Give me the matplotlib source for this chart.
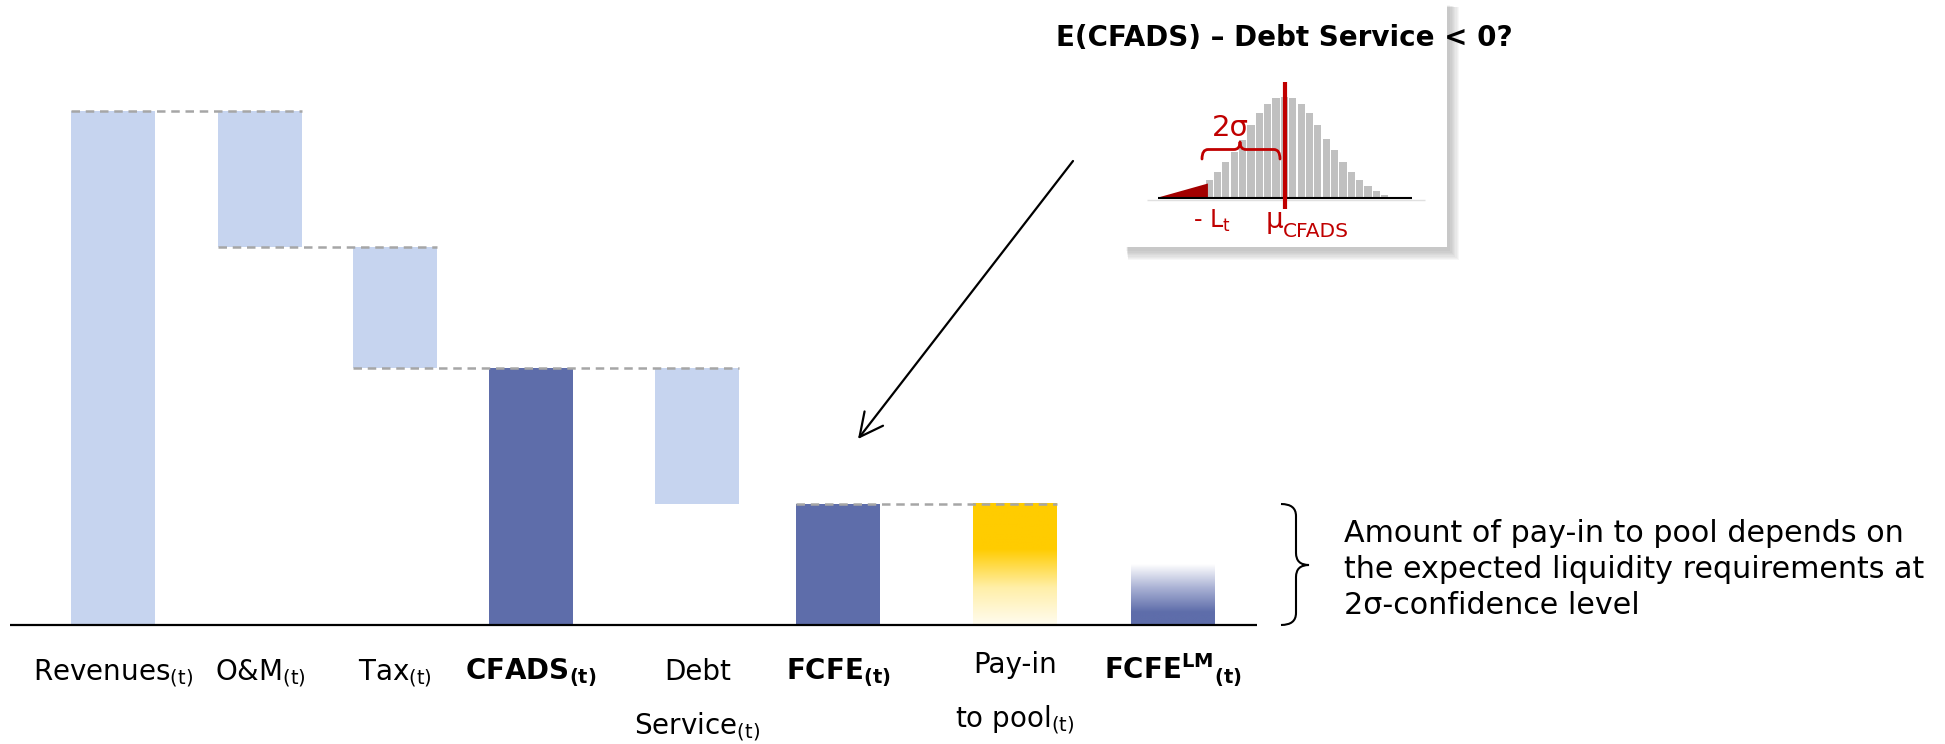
import numpy as np
import matplotlib
matplotlib.use("Agg")
import matplotlib.pyplot as plt
from matplotlib.colors import LinearSegmentedColormap
from matplotlib.patches import Rectangle, PathPatch
from matplotlib.path import Path

plt.rcParams['font.family'] = ['DejaVu Sans']
plt.rcParams['mathtext.default'] = 'regular'

# ---------------- data ----------------
categories = ["Revenues$_{(t)}$", "O&M$_{(t)}$", "Tax$_{(t)}$", "CFADS$_{(t)}$",
              "Debt\nService$_{(t)}$", "FCFE$_{(t)}$", "Pay-in\nto pool$_{(t)}$",
              "FCFE$^{LM}{}_{(t)}$"]
bold_labels = [False, False, False, True, False, True, False, True]
values = [100.0, -26.5, -23.6, 49.9, -26.5, 23.5, 23.5, 11.6]
kinds = ["total", "delta", "delta", "total", "delta", "total", "total", "total"]
styles = ["light", "light", "light", "dark", "light", "dark", "gold", "fade"]

hist_counts = [18, 26, 36, 46, 58, 73, 85, 94, 100, 101, 100, 94, 85, 73, 59, 48,
               36, 26, 18, 12, 6.7, 3]
hist_mean_bin = 9.1
tail_x = [-6.1, -0.15, -0.15]
tail_y = [0, 14, 0]

title_text = "E(CFADS) – Debt Service < 0?"
note_lines = ["Amount of pay-in to pool depends on",
              "the expected liquidity requirements at",
              "2σ-confidence level"]

# ---------------- layout ----------------
W, H = 1945, 744
fig = plt.figure(figsize=(W / 100, H / 100), dpi=100)
fig.patch.set_facecolor("white")

LIGHT = "#C6D4EF"
DARK = "#5E6DAA"
GOLD = "#FFCC00"
RED = "#C00000"

xpos = [113, 260, 395, 531, 697.5, 838.5, 1015, 1173]
bar_w = 84
base_px = 624.5
unit_px = 5.135

ax = fig.add_axes([0, 0, 1, 1])
ax.axis("off")
ax.set_zorder(1)

# waterfall geometry
bottoms, heights = [], []
level = 0.0
for v, k in zip(values, kinds):
    if k == "total":
        bottoms.append(0.0)
        heights.append(v)
        level = v
    else:
        bottoms.append(level + v)
        heights.append(-v)
        level = level + v

grad_gold = LinearSegmentedColormap.from_list(
    "gold", [(0, "#FFFCEE"), (0.3, "#FFEFA8"), (0.62, GOLD), (1, GOLD)])
grad_blue = LinearSegmentedColormap.from_list(
    "blue", [(0, DARK), (0.2, DARK), (0.6, "#A9B1D4"), (1, "#FFFFFF")])

for i, (x, b, h, s) in enumerate(zip(xpos, bottoms, heights, styles)):
    if s in ("light", "dark"):
        ax.bar(x, h, bottom=b, width=bar_w, color=LIGHT if s == "light" else DARK,
               zorder=3, linewidth=0)
    else:
        r = ax.bar(x, h, bottom=b, width=bar_w, color="none", zorder=3, linewidth=0)[0]
        g = np.linspace(0, 1, 256).reshape(-1, 1)
        ax.imshow(g, extent=[r.get_x(), r.get_x() + r.get_width(), r.get_y(),
                             r.get_y() + r.get_height()],
                  origin="lower", aspect="auto",
                  cmap=grad_gold if s == "gold" else grad_blue, zorder=3)
ax.set_xlim(0, W)
ax.set_ylim((base_px - H) / unit_px, base_px / unit_px)

# dashed connectors between bars sharing a level
levels = {}
for i, (b, h) in enumerate(zip(bottoms, heights)):
    for lv in (b, b + h):
        if abs(lv) > 1e-6:
            levels.setdefault(round(lv, 1), []).append(i)
for lv, idx in levels.items():
    if len(idx) >= 2:
        x0 = xpos[min(idx)] - bar_w / 2
        x1 = xpos[max(idx)] + bar_w / 2
        ax.plot([x0, x1], [lv, lv], color="#A6A6A6", lw=1.8,
                dashes=(3.4, 2.3), zorder=4)

ax.hlines(0, 10, 1257, color="black", lw=1.6, zorder=5)

# ---------- pixel overlay (under inset) ----------
pu = fig.add_axes([0, 0, 1, 1])
pu.set_xlim(0, W)
pu.set_ylim(H, 0)
pu.axis("off")
pu.patch.set_alpha(0)
pu.set_zorder(2)

bx0, bx1, by0, by1 = 1124, 1447, 2, 247
for k in range(8):
    d = 1 + k * 1.0
    pu.add_patch(Rectangle((bx0 + 2 + d * 0.3, by0 + 3 + d * 0.3),
                           bx1 - bx0 + d, by1 - by0 + d,
                           facecolor="#707070", alpha=0.055, lw=0))
pu.add_patch(Rectangle((bx0, by0), bx1 - bx0, by1 - by0, facecolor="white", lw=0))

# ---------- inset histogram ----------
bin_px = 8.36
first_px = 1205
cnt_px = 1.0
hbase = 197.5
hax = fig.add_axes([bx0 / W, (H - by1) / H, (bx1 - bx0) / W, (by1 - by0) / H])
hax.set_xlim((bx0 - first_px) / bin_px - 0.5, (bx1 - first_px) / bin_px - 0.5)
hax.set_ylim(-(by1 - hbase) / cnt_px, (hbase - by0) / cnt_px)
hax.axis("off")
hax.patch.set_alpha(0)
hax.set_zorder(3)
hax.bar(np.arange(len(hist_counts)), hist_counts, width=0.86, color="#C0C0C0",
        linewidth=0, zorder=2)
hax.fill(tail_x, tail_y, color="#A30000", lw=0, zorder=3)
hax.hlines(-2.7, -7.4, 25.8, color="#E0E0E0", lw=1, zorder=1)
hax.hlines(0, tail_x[0], 24.3, color="black", lw=1.5, zorder=4)
hax.vlines(hist_mean_bin, -11.5, 116, color=RED, lw=3, zorder=5)

# ---------- pixel overlay (top) ----------
pt = fig.add_axes([0, 0, 1, 1])
pt.set_xlim(0, W)
pt.set_ylim(H, 0)
pt.axis("off")
pt.patch.set_alpha(0)
pt.set_zorder(4)

pt.text(1284.5, 46, title_text, ha="center", va="baseline", fontsize=20,
        fontweight="bold", color="black")

# red 2-sigma bracket
bverts = [(1202, 159), (1202, 149.5), (1208, 149.5), (1234, 149.5),
          (1240, 149.5), (1240, 142), (1240, 149.5), (1246, 149.5),
          (1274, 149.5), (1280, 149.5), (1280, 159)]
bcodes = [Path.MOVETO, Path.CURVE3, Path.CURVE3, Path.LINETO, Path.CURVE3, Path.CURVE3,
          Path.CURVE3, Path.CURVE3, Path.LINETO, Path.CURVE3, Path.CURVE3]
pt.add_patch(PathPatch(Path(bverts, bcodes), facecolor="none", edgecolor=RED, lw=2,
                       capstyle="round", joinstyle="round"))
pt.text(1230, 136, "2σ", ha="center", va="baseline", fontsize=21, color=RED)
pt.text(1193, 228, "- L$_t$", ha="left", va="baseline", fontsize=17, color=RED)
pt.text(1266, 228, "μ", ha="left", va="baseline", fontsize=20, color=RED)
pt.text(1283, 237, "CFADS", ha="left", va="baseline", fontsize=14.5, color=RED)

# arrow
pt.annotate("", xy=(858, 439), xytext=(1073, 161),
            arrowprops=dict(arrowstyle="->,head_length=0.7,head_width=0.35",
                            lw=1.6, color="black", mutation_scale=24,
                            shrinkA=0, shrinkB=0))

# category labels
line_gap = 54
for x, lab, b in zip(xpos, categories, bold_labels):
    parts = lab.split("\n")
    if len(parts) == 1:
        ybase = [680]
    else:
        top = 673 if lab.startswith("Pay") else 680
        ybase = [top, top + line_gap]
    for p, yb in zip(parts, ybase):
        pt.text(x, yb, p, ha="center", va="baseline", fontsize=20,
                fontweight="bold" if b else "normal", color="black")

# right brace
verts = [(1281, 504), (1296, 504), (1296, 516),
         (1296, 553),
         (1296, 565), (1309, 565),
         (1296, 565), (1296, 577),
         (1296, 613),
         (1296, 625), (1281, 625)]
codes = [Path.MOVETO, Path.CURVE3, Path.CURVE3, Path.LINETO, Path.CURVE3, Path.CURVE3,
         Path.CURVE3, Path.CURVE3, Path.LINETO, Path.CURVE3, Path.CURVE3]
pt.add_patch(PathPatch(Path(verts, codes), facecolor="none", edgecolor="black", lw=1.5))

for i, line in enumerate(note_lines):
    pt.text(1344, 542 + i * 36, line, ha="left", va="baseline", fontsize=21.7,
            color="black")

fig.savefig("out.png", dpi=100, facecolor="white")
